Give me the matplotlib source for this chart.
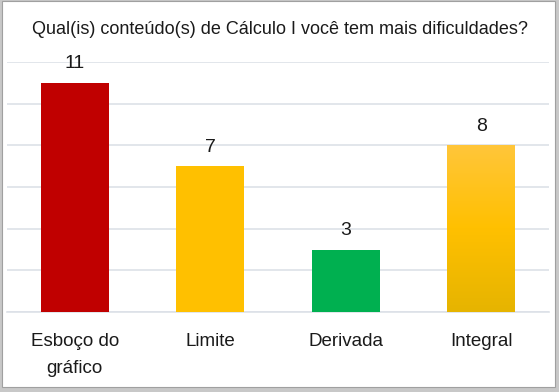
import numpy as np
import matplotlib.pyplot as plt
from matplotlib.patches import Rectangle
from matplotlib.colors import LinearSegmentedColormap
from matplotlib import font_manager

categorias = ['Esboço do\ngráfico', 'Limite', 'Derivada', 'Integral']
valores = [11, 7, 3, 8]
cores = ['#C00000', '#FFC000', '#00B050', '#FFC000']
titulo = 'Qual(is) conteúdo(s) de Cálculo I você tem mais dificuldades?'

# fonte estreita, tipo Arial Narrow, se existir
nomes = {f.name for f in font_manager.fontManager.ttflist}
fonte = 'Liberation Sans Narrow' if 'Liberation Sans Narrow' in nomes else 'Liberation Sans'
plt.rcParams['font.family'] = [fonte, 'DejaVu Sans']

fig = plt.figure(figsize=(5.59, 3.92), dpi=100, facecolor='#C8C8C8')
# painel branco com sombra
fig.patches.append(Rectangle((2 / 559, 5 / 392), 553 / 559, 386 / 392, transform=fig.transFigure,
                             facecolor='white', edgecolor='#A0A0A0', linewidth=0.8, zorder=-5))

ax = fig.add_axes([7 / 559, 80 / 392, 542 / 559, 250 / 392])
ax.set_facecolor('none')
x = np.arange(len(categorias))
barras = ax.bar(x, valores, width=0.5, color=cores, zorder=3)

# gradiente na barra Integral
b = barras[3]
bb = b.get_bbox()
grad = np.linspace(0, 1, 256).reshape(-1, 1)
cmap = LinearSegmentedColormap.from_list('g', ['#E6B400', '#FFC000', '#FFC63A'])
img = ax.imshow(grad, extent=[bb.x0, bb.x1, bb.y0, bb.y1], origin='lower', cmap=cmap,
                aspect='auto', zorder=4)
img.set_clip_path(b)
b.set_facecolor('none')

for xi, v in zip(x, valores):
    ax.text(xi, v + 0.5, str(v), ha='center', va='bottom', fontsize=14, color='#1A1A1A')

ax.set_xlim(-0.5, 3.5)
ax.set_ylim(0, 12)
ax.set_yticks(np.arange(0, 13, 2))
ax.yaxis.grid(True, color='#DDE1E8', linewidth=1.2, zorder=0)
ax.tick_params(axis='y', left=False, labelleft=False)
ax.tick_params(axis='x', length=0, pad=15)
ax.set_xticks(x)
ax.set_xticklabels(categorias, fontsize=13.5, color='#1A1A1A', linespacing=1.8, va='top')
for s in ['top', 'right', 'left']:
    ax.spines[s].set_visible(False)
ax.spines['bottom'].set_color('#DDE1E8')
ax.spines['bottom'].set_linewidth(1.2)

fig.text(0.5, 1 - 29 / 392, titulo, ha='center', va='center', fontsize=13, color='#1A1A1A')

fig.savefig('out.png', dpi=100, facecolor=fig.get_facecolor())
